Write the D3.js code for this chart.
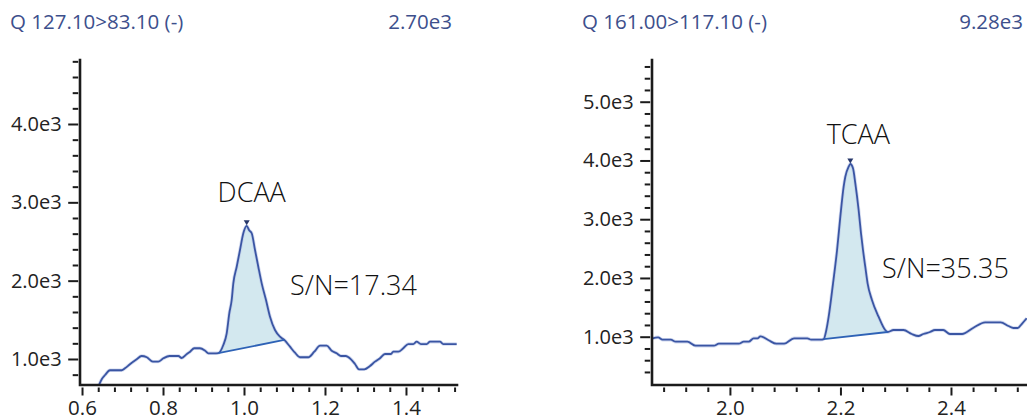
<!DOCTYPE html>
<html>
<head>
<meta charset="utf-8">
<script src="https://cdn.jsdelivr.net/npm/d3@7"></script>
<style>
  html, body { margin: 0; padding: 0; background: #fff; }
  svg { display: block; font-family: "Open Sans", "Noto Sans", sans-serif; }
</style>
</head>
<body>
<svg id="chart" width="1027" height="420"></svg>
<script>
// ---- Chromatogram traces (retention time in min, intensity in counts) ----
const dcaaTime = [
  0.642, 0.649, 0.657, 0.669, 0.698, 0.706, 0.719, 0.735, 0.747, 0.760,
  0.775, 0.788, 0.801, 0.816, 0.838, 0.846, 0.859, 0.867, 0.877, 0.891,
  0.904, 0.912, 0.931, 0.9365, 0.9489, 0.9573, 0.9637, 0.9696, 0.9736, 0.9820,
  0.9901, 0.9983, 1.0067, 1.0123, 1.0190, 1.0272, 1.0353, 1.0437, 1.0543, 1.0642,
  1.0765, 1.0889, 1.0995, 1.1136, 1.1259, 1.1383, 1.1588, 1.1736, 1.1877, 1.2042,
  1.2165, 1.2289, 1.2395, 1.2511, 1.2642, 1.2741, 1.2840, 1.2970, 1.3111, 1.3235,
  1.3358, 1.3481, 1.3630, 1.3686, 1.3810, 1.3933, 1.4057, 1.4180, 1.4264, 1.4370,
  1.4511, 1.4593, 1.4840, 1.4921, 1.5252
];
const dcaaIntensity = [
  668, 745, 796, 856, 856, 881, 936, 996, 1038, 1022,
  966, 966, 1009, 1038, 1038, 1013, 1064, 1093, 1137, 1137,
  1106, 1073, 1073, 1075, 1179, 1328, 1583, 1753, 1966, 2178,
  2391, 2605, 2700, 2646, 2605, 2391, 2178, 1966, 1753, 1540,
  1370, 1285, 1243, 1157, 1080, 1022, 1022, 1093, 1170, 1170,
  1106, 1073, 1038, 1038, 996, 936, 868, 868, 911, 966,
  1009, 1064, 1064, 1093, 1093, 1137, 1191, 1191, 1221, 1191,
  1191, 1221, 1221, 1191, 1191
];
const dcaaPeakWindow = [0.9365, 1.0995];

const tcaaTime = [
  1.860, 1.870, 1.878, 1.893, 1.902, 1.923, 1.938, 1.971, 1.980, 2.016,
  2.025, 2.034, 2.043, 2.050, 2.055, 2.070, 2.084, 2.098, 2.116, 2.140,
  2.147, 2.164, 2.1697, 2.1745, 2.1787, 2.1866, 2.1939, 2.1998, 2.2058, 2.2088,
  2.2148, 2.2179, 2.2227, 2.2269, 2.2329, 2.2372, 2.2408, 2.2449, 2.2491, 2.2570,
  2.2690, 2.2810, 2.2856, 2.2960, 2.3140, 2.3290, 2.3410, 2.3500, 2.3620, 2.3710,
  2.3860, 2.3980, 2.4200, 2.4400, 2.4620, 2.4900, 2.5040, 2.5130, 2.5210, 2.5280,
  2.5370
];
const tcaaIntensity = [
  973, 990, 949, 949, 915, 915, 847, 847, 881, 881,
  915, 915, 973, 973, 1007, 939, 881, 881, 973, 973,
  949, 949, 960, 1114, 1340, 1909, 2476, 3043, 3553, 3723,
  3894, 3940, 3866, 3611, 3157, 2760, 2476, 2191, 1909, 1625,
  1340, 1114, 1080, 1114, 1114, 1046, 1012, 1046, 1080, 1114,
  1114, 1046, 1046, 1148, 1245, 1245, 1182, 1148, 1148, 1216,
  1313
];
const tcaaPeakWindow = [2.1697, 2.2856];

// ---- Text ----
const transitionLabels = ["Q 127.10>83.10 (-)", "Q 161.00>117.10 (-)"];
const maxIntensityLabels = ["2.70e3", "9.28e3"];
const compoundNames = ["DCAA", "TCAA"];
const signalToNoiseLabels = ["S/N=17.34", "S/N=35.35"];

// ---- Axes ----
const dcaaTimeTicks = [0.6, 0.8, 1.0, 1.2, 1.4];
const tcaaTimeTicks = [2.0, 2.2, 2.4];
const dcaaIntensityTicks = [1000, 2000, 3000, 4000];
const tcaaIntensityTicks = [1000, 2000, 3000, 4000, 5000];
const dcaaTimeRange = [0.595, 1.526];
const tcaaTimeRange = [1.859, 2.543];
const dcaaIntensityRange = [668, 4817];
const tcaaIntensityRange = [178, 5710];

const panels = [
  {
    time: dcaaTime, intensity: dcaaIntensity, peak: dcaaPeakWindow,
    xDomain: dcaaTimeRange, yDomain: dcaaIntensityRange,
    xTicks: dcaaTimeTicks, yTicks: dcaaIntensityTicks,
    title: transitionLabels[0], maxLabel: maxIntensityLabels[0],
    name: compoundNames[0], sn: signalToNoiseLabels[0],
    box: { left: 80, right: 457, top: 60, bottom: 385 },
    titleX: 10, maxX: 452,
    nameOffset: [5, -24], snPos: [290, 295]
  },
  {
    time: tcaaTime, intensity: tcaaIntensity, peak: tcaaPeakWindow,
    xDomain: tcaaTimeRange, yDomain: tcaaIntensityRange,
    xTicks: tcaaTimeTicks, yTicks: tcaaIntensityTicks,
    title: transitionLabels[1], maxLabel: maxIntensityLabels[1],
    name: compoundNames[1], sn: signalToNoiseLabels[1],
    box: { left: 652, right: 1030, top: 60, bottom: 385 },
    titleX: 582, maxX: 1023,
    nameOffset: [8, -20], snPos: [882, 278]
  }
];

const svg = d3.select("#chart");
const traceColor = "#3a55a3";
const haloColor = "#b4c2e6";
const fillColor = "#d3e8ef";
const baselineColor = "#2e62b6";
const titleColor = "#3d4f8c";
const axisColor = "#1b1b1b";

const defs = svg.append("defs");

panels.forEach((p, i) => {
  const b = p.box;
  const x = d3.scaleLinear().domain(p.xDomain).range([b.left, b.right]);
  const y = d3.scaleLinear().domain(p.yDomain).range([b.bottom, b.top]);
  const pts = p.time.map((t, k) => ({ t, v: p.intensity[k] }));

  // header
  svg.append("text").attr("x", p.titleX).attr("y", 28.5)
    .attr("fill", titleColor).attr("font-size", 20.5).text(p.title);
  svg.append("text").attr("x", p.maxX).attr("y", 28.5)
    .attr("text-anchor", "end")
    .attr("fill", titleColor).attr("font-size", 20.5).text(p.maxLabel);

  // clip to the plotting window
  defs.append("clipPath").attr("id", "clip" + i)
    .append("rect").attr("x", b.left).attr("y", b.top)
    .attr("width", b.right - b.left).attr("height", b.bottom - b.top);
  const g = svg.append("g").attr("clip-path", `url(#clip${i})`);

  const line = d3.line().x(d => x(d.t)).y(d => y(d.v)).curve(d3.curveMonotoneX);

  // integrated peak area, closed along the baseline
  const peakPts = pts.filter(d => d.t >= p.peak[0] - 1e-9 && d.t <= p.peak[1] + 1e-9);
  g.append("path").attr("d", line(peakPts) + "Z")
    .attr("fill", fillColor).attr("stroke", "none");

  // trace
  g.append("path").attr("d", line(pts)).attr("fill", "none")
    .attr("stroke", haloColor).attr("stroke-width", 3.4)
    .attr("stroke-linejoin", "round").attr("opacity", 0.6);
  g.append("path").attr("d", line(pts)).attr("fill", "none")
    .attr("stroke", traceColor).attr("stroke-width", 1.8)
    .attr("stroke-linejoin", "round");

  // baseline
  const s = peakPts[0], e = peakPts[peakPts.length - 1];
  g.append("line")
    .attr("x1", x(s.t)).attr("y1", y(s.v))
    .attr("x2", x(e.t)).attr("y2", y(e.v))
    .attr("stroke", baselineColor).attr("stroke-width", 1.8);

  // apex marker
  const apex = pts.reduce((a, c) => (c.v > a.v ? c : a));
  const ax = x(apex.t), ay = y(apex.v);
  svg.append("path")
    .attr("d", `M${ax - 3},${ay - 5.5}L${ax + 3},${ay - 5.5}L${ax},${ay - 0.5}Z`)
    .attr("fill", "#27376a");

  // peak annotations
  svg.append("text").attr("x", ax + p.nameOffset[0]).attr("y", ay + p.nameOffset[1])
    .attr("text-anchor", "middle").attr("font-size", 27).attr("font-weight", 300)
    .attr("fill", "#111").text(p.name);
  svg.append("text").attr("x", p.snPos[0]).attr("y", p.snPos[1])
    .attr("font-size", 27).attr("font-weight", 300)
    .attr("fill", "#111").text(p.sn);

  // axes
  const xMinor = d3.range(Math.ceil(p.xDomain[0] / 0.04) * 0.04, p.xDomain[1], 0.04)
    .map(v => +v.toFixed(2))
    .filter(v => !p.xTicks.some(t => Math.abs(t - v) < 1e-6));
  const yMinor = d3.range(Math.ceil(p.yDomain[0] / 200) * 200, p.yDomain[1], 200)
    .filter(v => v % 1000 !== 0 && y(v) < b.bottom - 4);

  const xAxisMinor = d3.axisBottom(x).tickValues(xMinor).tickSize(4.5).tickFormat("");
  const xAxisMajor = d3.axisBottom(x).tickValues(p.xTicks).tickSize(8)
    .tickPadding(5).tickFormat(d3.format(".1f"));
  const yAxisMinor = d3.axisLeft(y).tickValues(yMinor).tickSize(5.5).tickFormat("");
  const yAxisMajor = d3.axisLeft(y).tickValues(p.yTicks).tickSize(10)
    .tickPadding(6.5).tickFormat(v => (v / 1000).toFixed(1) + "e3");

  [xAxisMinor, xAxisMajor].forEach(ax => {
    const ga = svg.append("g").attr("transform", `translate(0,${b.bottom + 2.5})`).call(ax);
    ga.select(".domain").remove();
    ga.selectAll("line").attr("stroke", axisColor).attr("stroke-width", 2);
    ga.selectAll("text").attr("font-size", 20.5).attr("fill", "#222")
      .attr("font-family", "'Open Sans','Noto Sans',sans-serif");
  });
  [yAxisMinor, yAxisMajor].forEach(ax => {
    const ga = svg.append("g").attr("transform", `translate(${b.left - 1.8},0)`).call(ax);
    ga.select(".domain").remove();
    ga.selectAll("line").attr("stroke", axisColor).attr("stroke-width", 2);
    ga.selectAll("text").attr("font-size", 20).attr("fill", "#222")
      .attr("font-family", "'Open Sans','Noto Sans',sans-serif");
  });

  // axis lines
  svg.append("path")
    .attr("d", `M${b.left},${b.top}V${b.bottom}H${b.right}`)
    .attr("fill", "none").attr("stroke", axisColor).attr("stroke-width", 2.6)
    .attr("stroke-linecap", "square");
});
</script>
</body>
</html>
